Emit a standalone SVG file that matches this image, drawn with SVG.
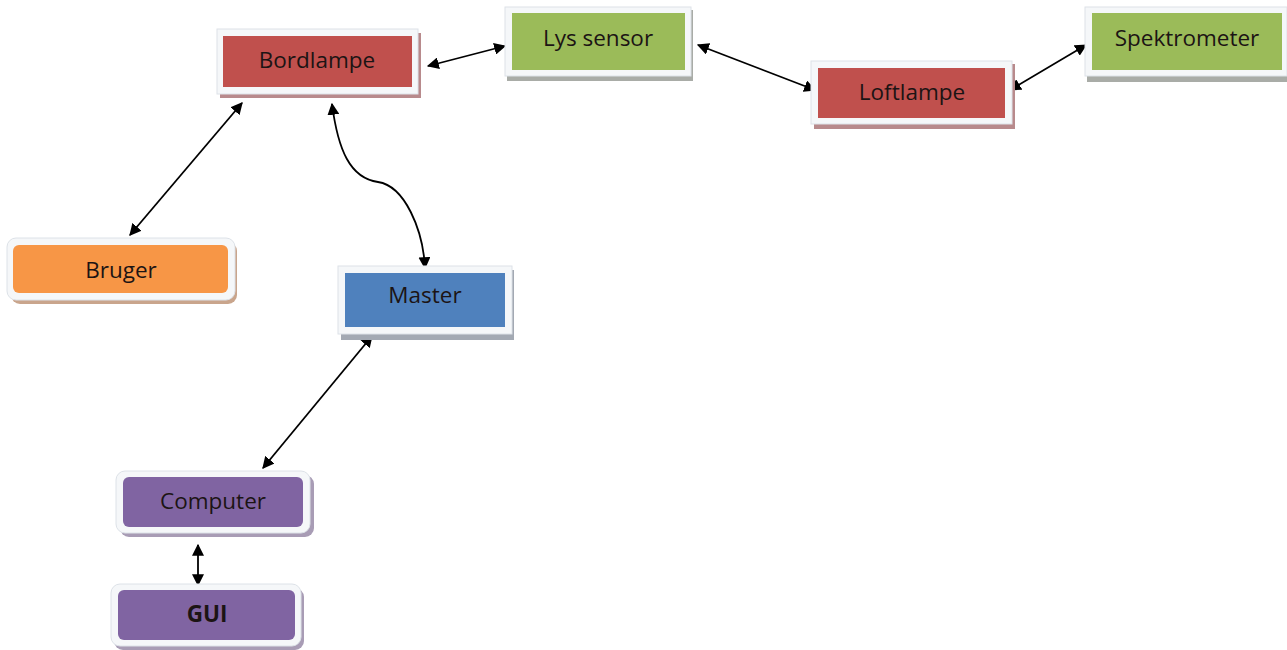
<svg xmlns="http://www.w3.org/2000/svg" width="1287" height="650" viewBox="0 0 1287 650">
<style>
.frame{fill:#f5f7f9;stroke:#dde2e8;stroke-width:1}
.lbl{font-family:"Open Sans","Liberation Sans",sans-serif;font-size:22.5px;fill:#1c1414;text-anchor:middle;dominant-baseline:central}
.bold{font-weight:bold}
.con{fill:none;stroke:#000;stroke-width:1.8;marker-start:url(#ah);marker-end:url(#ah)}
.red{fill:#c0504d}.green{fill:#9bbb59}.orange{fill:#f79646}.blue{fill:#4f81bd}.purple{fill:#8064a2}
.shR{fill:#b88a8c}.shG{fill:#a9aca7}.shO{fill:#c9a58c}.shB{fill:#a3a9b3}.shP{fill:#a89cb5}
</style>
<defs>
<marker id="ah" viewBox="0 0 10 10" refX="9" refY="5" markerWidth="12" markerHeight="12" markerUnits="userSpaceOnUse" orient="auto-start-reverse">
<path d="M0,0 L10,5 L0,10 z" fill="#000"/>
</marker>
</defs>
<rect width="1287" height="650" fill="#fff"/>
<g id="connectors">
<line class="con" x1="428" y1="66" x2="505" y2="46"/>
<line class="con" x1="698" y1="45" x2="815" y2="90"/>
<line class="con" x1="1010" y1="90" x2="1086" y2="45"/>
<line class="con" x1="242" y1="103" x2="130" y2="235"/>
<path class="con" d="M332,104 C338,150 350,178 378,182 C405,186 423,230 425,268"/>
<line class="con" x1="372" y1="336" x2="263" y2="468"/>
<line class="con" x1="198" y1="545" x2="198" y2="585"/>
</g>
<g id="bordlampe">
<rect class="shR" x="220" y="33" width="201" height="65"/>
<rect class="frame" x="217" y="29" width="201" height="65"/>
<rect class="red" x="223" y="36" width="189" height="51"/>
<text class="lbl" x="317" y="59">Bordlampe</text>
</g>
<g id="lyssensor">
<rect class="shG" x="507" y="10" width="186" height="71"/>
<rect class="frame" x="505" y="7" width="186" height="69"/>
<rect class="green" x="512" y="13" width="173" height="57"/>
<text class="lbl" x="598" y="37">Lys sensor</text>
</g>
<g id="loftlampe">
<rect class="shR" x="814" y="64" width="201" height="65"/>
<rect class="frame" x="811" y="61" width="201" height="63"/>
<rect class="red" x="818" y="68" width="187" height="50"/>
<text class="lbl" x="912" y="91">Loftlampe</text>
</g>
<g id="spektrometer">
<rect class="shG" x="1087" y="10" width="200" height="72"/>
<rect class="frame" x="1085" y="7" width="202" height="69"/>
<rect class="green" x="1092" y="13" width="190" height="57"/>
<text class="lbl" x="1187" y="37">Spektrometer</text>
</g>
<g id="bruger">
<rect class="shO" x="11" y="242" width="226" height="62" rx="9"/>
<rect class="frame" x="7" y="238" width="228" height="62" rx="9"/>
<rect class="orange" x="13" y="245" width="215" height="48" rx="6"/>
<text class="lbl" x="121" y="269">Bruger</text>
</g>
<g id="master">
<rect class="shB" x="341" y="270" width="173" height="70"/>
<rect class="frame" x="338" y="266" width="174" height="68"/>
<rect class="blue" x="345" y="273" width="160" height="54"/>
<text class="lbl" x="425" y="294">Master</text>
</g>
<g id="computer">
<rect class="shP" x="120" y="475" width="194" height="62" rx="9"/>
<rect class="frame" x="116" y="471" width="194" height="62" rx="9"/>
<rect class="purple" x="123" y="477" width="180" height="50" rx="6"/>
<text class="lbl" x="213" y="500">Computer</text>
</g>
<g id="gui">
<rect class="shP" x="114" y="588" width="190" height="62" rx="9"/>
<rect class="frame" x="111" y="584" width="190" height="62" rx="9"/>
<rect class="purple" x="118" y="590" width="177" height="50" rx="6"/>
<text class="lbl bold" x="207" y="613">GUI</text>
</g>
</svg>
